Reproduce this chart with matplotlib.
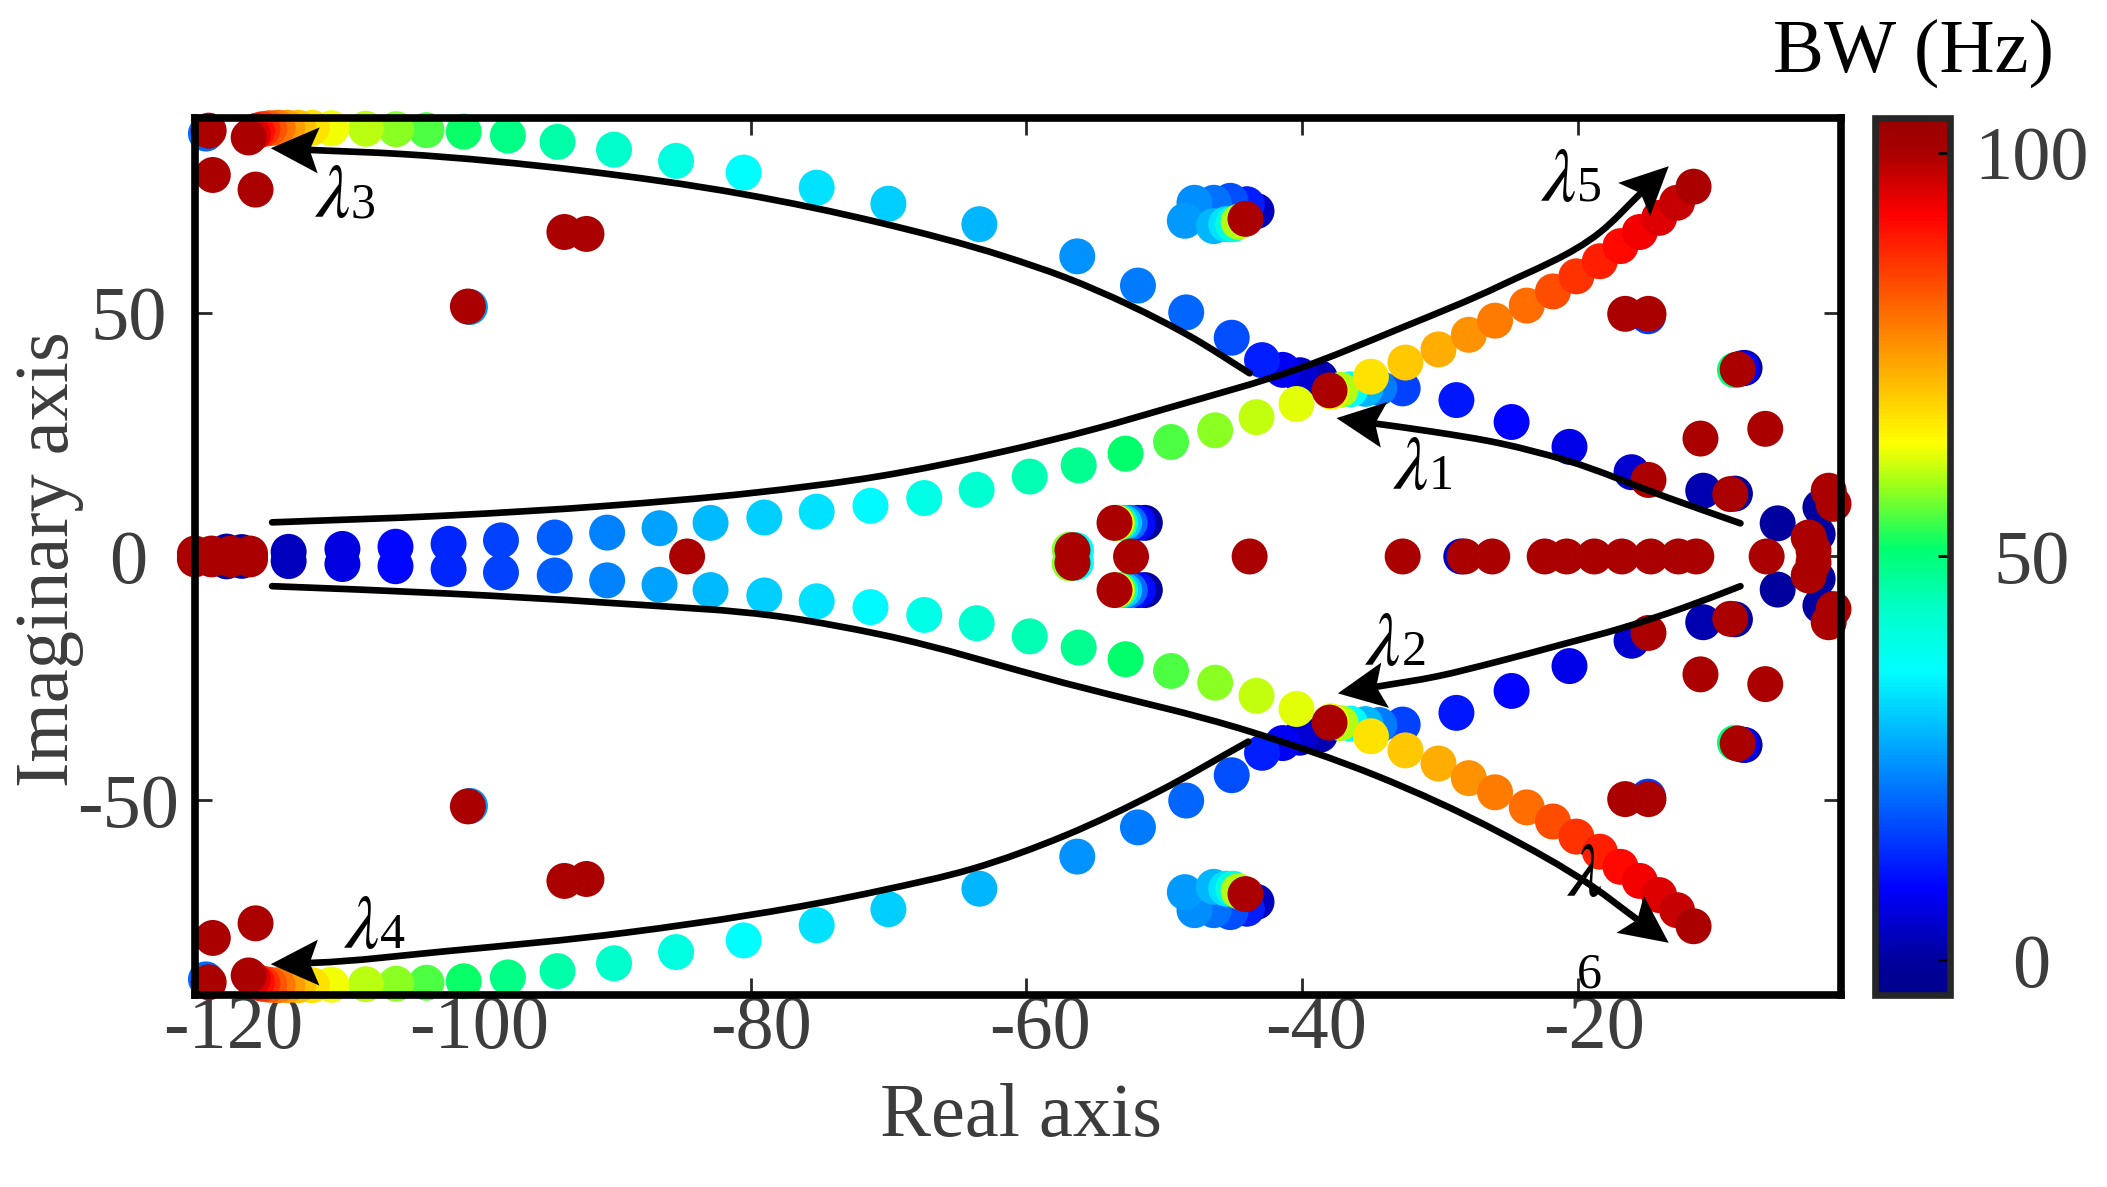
import numpy as np
import matplotlib
matplotlib.use('Agg')
import matplotlib.pyplot as plt
import matplotlib.transforms as mtransforms
from matplotlib.colors import LinearSegmentedColormap, Normalize
from matplotlib.patches import PathPatch, Polygon
from matplotlib.path import Path

plt.rcParams['font.family'] = ['Liberation Serif', 'DejaVu Serif']
plt.rcParams['mathtext.fontset'] = 'stix'
plt.rcParams['axes.unicode_minus'] = False

# ---- poles read off the root locus, upper half plane only
# (the lower half is the complex conjugate and is mirrored below)

# lambda1 branch (short arrow from the right towards the crossing)
lam1_re = [-8.6, -10.9, -16.1, -20.6, -24.8, -28.8, -32.7, -34.4, -35.4, -36.5, -37.2, -38.0]
lam1_im = [12.9, 13.5, 17.3, 22.5, 27.6, 32.1, 34.5, 34.6, 34.4, 34.3, 34.2, 34.1]
lam1_bw = [0, 2, 5, 7, 9, 11, 16, 22, 28, 36, 60, 100]

# lambda3 branch (from the crossing to the top left corner)
lam3_re = [-38.7, -40.15, -41.4, -42.9, -45.1, -48.4, -51.9, -56.3, -63.4, -70.0,
           -75.2, -80.5, -85.4, -89.9, -94.0, -97.6, -100.8, -103.5, -105.7, -107.9,
           -110.4, -111.8, -112.8, -113.6, -114.3, -114.9, -115.4, -115.8, -116.1, -116.4]
lam3_im = [36.6, 37.2, 38.3, 40.3, 44.9, 50.1, 55.6, 61.6, 68.2, 72.4,
           75.7, 78.8, 81.2, 83.5, 85.1, 86.4, 87.2, 87.5, 87.7, 87.8,
           87.9, 88.0, 88.0, 88.0, 88.0, 87.9, 87.7, 87.4, 86.8, 86.0]
lam3_bw = [2, 5, 8, 12, 17, 19.5, 22, 24.5, 28, 30.5,
           33, 36, 40, 43, 46, 49, 51.5, 55, 58, 60.5,
           63.5, 67, 71, 75, 79, 83, 87, 91, 95, 100]

# lambda5 branch (from the real axis on the left to the upper right)
lam5_re = [-118.0, -116.9, -113.5, -109.6, -105.75, -101.9, -98.1, -94.2, -90.4, -86.6,
           -82.9, -79.0, -75.2, -71.3, -67.4, -63.6, -59.75, -56.2, -52.8, -49.5,
           -46.3, -43.3, -40.4, -37.9, -35.0, -32.5, -30.1, -27.9, -26.0, -23.7,
           -21.8, -20.1, -18.4, -16.9, -15.5, -14.1, -12.8, -11.6]
lam5_im = [1.0, 0.9, 0.95, 1.55, 2.0, 2.6, 3.3, 3.9, 4.9, 5.8,
           6.9, 8.0, 9.2, 10.4, 12.0, 13.7, 16.4, 18.7, 21.1, 23.5,
           25.9, 28.6, 31.3, 33.8, 36.9, 39.8, 42.5, 45.5, 48.4, 51.5,
           54.4, 57.5, 60.6, 63.7, 66.6, 69.5, 72.6, 75.9]
lam5_bw = [0, 1.5, 3, 6, 9.5, 13, 16, 19, 22.5, 26,
           28.5, 30.5, 33, 35.5, 39, 42, 45, 48, 51, 55,
           58, 60.7, 62.4, 64.5, 67, 70, 73, 76, 78.5, 80.5,
           83.6, 86.7, 89, 91.5, 93, 95, 97.5, 100]

# small cluster near -44 + 70j
clA_re = [-43.3, -44.0, -45.2, -46.4, -47.8, -48.5, -46.4, -45.5, -45.0, -44.6, -44.1]
clA_im = [70.9, 72.3, 73.0, 72.6, 72.6, 68.9, 67.8, 68.2, 68.2, 68.7, 69.3]
clA_bw = [3, 12, 17, 21, 24, 25, 28, 33, 40, 60, 100]

# small cluster near -53.6 + 6.9j
clB_re = [-51.4, -51.9, -52.5, -52.9, -53.2, -53.35, -53.45, -53.6]
clB_im = [6.9, 6.9, 6.9, 6.9, 6.9, 6.9, 6.9, 6.9]
clB_bw = [0, 10, 20, 30, 40, 55, 65, 100]

# small cluster near -56.7 + 1.3j
clC_re = [-56.4, -56.85, -56.65]
clC_im = [1.3, 1.4, 1.3]
clC_bw = [36, 58, 100]

# nearly fixed poles (mostly seen only at BW = 100 Hz)
fix_re = [-120.3, -119.1, -117.7, -116.3, -84.6, -52.4, -43.8, -32.7, -28.45, -28.2,
          -26.2, -22.4, -20.8, -18.8, -16.8, -14.7, -12.7, -11.4, -6.3,
          -119.5, -119.3, -119.0, -115.9, -93.5, -91.9, -100.35, -100.5,
          -14.9, -16.56, -14.87, -14.87, -11.1, -6.4, -8.94,
          -7.9, -8.1, -8.6, -8.4, -5.5, -2.6, -2.4,
          -1.8, -1.45, -3.25, -2.9]
fix_im = [0.6, 0.6, 0.6, 0.6, 0.0, 0.0, 0.0, 0.0, 0.0, 0.0,
          0.0, 0.0, 0.0, 0.0, 0.0, 0.0, 0.0, 0.0, 0.0,
          86.8, 87.4, 78.3, 75.3, 66.6, 66.2, 51.2, 51.3,
          49.3, 49.8, 49.8, 15.7, 24.2, 26.2, 12.8,
          38.7, 38.6, 38.25, 38.4, 6.8, 4.6, 10.1,
          13.5, 10.8, 3.9, 1.2]
fix_bw = [100, 100, 100, 100, 100, 100, 100, 100, 4, 100,
          100, 100, 100, 100, 100, 100, 100, 100, 100,
          20, 100, 100, 100, 100, 100, 25, 100,
          15, 100, 100, 100, 100, 100, 100,
          0, 8, 50, 100, 0, 0, 0,
          100, 100, 100, 100]

# ---- annotation arrows (way points in data units, last point = tip)
arrow_paths = {
    'l1': [(-8.2, 6.8), (-13.5, 12.1), (-20.8, 19.7), (-25.6, 23.2), (-30.5, 25.6), (-37.5, 28.4)],
    'l2': [(-8.2, -6.1), (-12.3, -10.5), (-16.8, -14.7), (-21.2, -18.1), (-25.7, -21.5),
           (-30.2, -24.6), (-37.4, -28.1)],
    'l3': [(-43.8, 37.6), (-48.0, 45.0), (-52.6, 51.7), (-57.1, 57.2), (-61.6, 61.6),
           (-70.6, 68.5), (-80.6, 74.4), (-92.3, 79.2), (-105.3, 82.6), (-114.8, 83.8)],
    'l4': [(-43.9, -38.0), (-50.45, -48.3), (-57.2, -57.3), (-63.9, -64.1), (-70.6, -68.6),
           (-89.0, -77.2), (-102.0, -81.0), (-111.7, -83.4), (-114.8, -83.7)],
    'l5': [(-114.7, 7.0), (-102.0, 8.4), (-90.4, 10.4), (-80.0, 13.0), (-70.6, 16.5),
           (-61.9, 21.4), (-55.0, 26.2), (-49.8, 30.4), (-40.2, 38.6), (-32.9, 46.8),
           (-25.6, 55.6), (-18.4, 66.5), (-13.4, 80.1)],
    'l6': [(-114.7, -6.1), (-102.0, -7.6), (-90.4, -9.5), (-77.2, -12.6), (-70.6, -16.0),
           (-57.2, -26.0), (-43.7, -36.0), (-34.7, -44.9), (-25.7, -56.6),
           (-19.0, -67.6), (-13.4, -79.3)],
}

# lambda labels: (index, x, y of the lambda baseline)
lam_labels = [('1', -33.4, 13.9), ('2', -35.4, -22.2), ('3', -111.6, 69.6),
              ('4', -109.5, -80.3), ('5', -22.7, 73.0)]
lam6_pos = (-20.8, -69.6)
lam6_digit_pos = (-20.1, -88.5)

xticks = [-120, -100, -80, -60, -40, -20]
xtick_labels = ['-120', '-100', '-80', '-60', '-40', '-20']
yticks = [-50, 0, 50]
ytick_labels = ['-50', '0', '50']
cbar_ticks = [0, 50, 100]
cbar_labels = ['0', '50', '100']

# ---- colour map (jet-like, as in the colour bar)
cmap = LinearSegmentedColormap.from_list('bw', [
    (0.00, (0.00, 0.00, 0.55)),
    (0.04, (0.00, 0.00, 0.62)),
    (0.12, (0.00, 0.00, 1.00)),
    (0.37, (0.00, 1.00, 1.00)),
    (0.44, (0.00, 1.00, 0.78)),
    (0.51, (0.00, 1.00, 0.42)),
    (0.58, (0.60, 1.00, 0.10)),
    (0.63, (1.00, 1.00, 0.00)),
    (0.89, (1.00, 0.00, 0.00)),
    (0.96, (0.67, 0.00, 0.00)),
    (1.00, (0.60, 0.00, 0.00)),
])
norm = Normalize(vmin=-4.3, vmax=104.3)

groups = [(lam1_re, lam1_im, lam1_bw), (lam3_re, lam3_im, lam3_bw),
          (lam5_re, lam5_im, lam5_bw), (clA_re, clA_im, clA_bw),
          (clB_re, clB_im, clB_bw), (clC_re, clC_im, clC_bw),
          (fix_re, fix_im, fix_bw)]
re = np.concatenate([np.asarray(g[0], float) for g in groups])
im = np.concatenate([np.asarray(g[1], float) for g in groups])
bw = np.concatenate([np.asarray(g[2], float) for g in groups])
up = im > 0
re_all = np.concatenate([re, re[up]])
im_all = np.concatenate([im, -im[up]])
bw_all = np.concatenate([bw, bw[up]])
order = np.argsort(bw_all, kind='stable')   # higher BW drawn on top

fig = plt.figure(figsize=(21.07, 11.87), dpi=100)
ax = fig.add_axes([0.0925, 0.1618, 0.7813, 0.7388])

sc = ax.scatter(re_all[order], im_all[order], c=bw_all[order], cmap=cmap, norm=norm,
                s=670, linewidths=0, clip_on=False, zorder=3)

ax.set_xlim(-120.3, -0.9)
ax.set_ylim(-90, 90)

ax.set_xticks(xticks)
ax.set_xticklabels(xtick_labels)
ax.set_yticks(yticks)
ax.set_yticklabels(ytick_labels, ha='center')
ax.tick_params(direction='in', length=12.5, width=2, color='#262626',
               labelcolor='#3c3c3c', labelsize=55, top=True, right=True)
ax.tick_params(axis='x', pad=0)
ax.tick_params(axis='y', pad=48)
xshift_px = [34, 4, 10, 14, 14, 16]
for lbl, dx in zip(ax.get_xticklabels(), xshift_px):
    lbl.set_transform(lbl.get_transform() + mtransforms.Affine2D().translate(dx, 0))

for sp in ax.spines.values():
    sp.set_linewidth(5.5)
    sp.set_color('k')
    sp.set_zorder(4)

ax.set_xlabel('Real axis', fontsize=55, color='#3c3c3c')
ax.xaxis.set_label_coords(0.4846, 0.088, transform=fig.transFigure)
ax.set_ylabel('Imaginary axis', fontsize=55, color='#3c3c3c')
ax.yaxis.set_label_coords(0.0401, 0.5286, transform=fig.transFigure)


def draw_arrow(pts, head_len=48, head_half=23, notch=9):
    # smooth curve through the way points, notched arrow head at the last one
    pts = np.asarray(pts, float)
    tr = ax.transData
    inv = tr.inverted()
    P = tr.transform(pts)
    tip = P[-1]
    d = P[-1] - P[-2]
    d = d / np.hypot(d[0], d[1])
    nrm = np.array([-d[1], d[0]])
    back = tip - (head_len - notch) * d
    head = np.array([tip, tip - head_len * d + head_half * nrm, back,
                     tip - head_len * d - head_half * nrm])
    P[-1] = back + 2 * d
    n = len(P)
    h = np.hypot(*np.diff(P, axis=0).T)
    m = np.zeros_like(P)
    m[0] = (P[1] - P[0]) / h[0]
    m[-1] = (P[-1] - P[-2]) / h[-1]
    for i in range(1, n - 1):
        m[i] = ((P[i + 1] - P[i]) / h[i] * h[i - 1]
                + (P[i] - P[i - 1]) / h[i - 1] * h[i]) / (h[i - 1] + h[i])
    verts = [P[0]]
    codes = [Path.MOVETO]
    for i in range(n - 1):
        verts += [P[i] + m[i] * h[i] / 3.0, P[i + 1] - m[i + 1] * h[i] / 3.0, P[i + 1]]
        codes += [Path.CURVE4] * 3
    verts = inv.transform(np.array(verts))
    ax.add_patch(PathPatch(Path(verts, codes), fill=False, lw=4.8, edgecolor='k',
                           capstyle='round', zorder=5, clip_on=False))
    ax.add_patch(Polygon(inv.transform(head), closed=True, facecolor='k',
                         edgecolor='none', zorder=5, clip_on=False))


for key in arrow_paths:
    draw_arrow(arrow_paths[key])

for num, x, y in lam_labels:
    ax.text(x, y, r'$\lambda$', fontsize=55, ha='left', va='baseline', zorder=6)
    ax.annotate(num, xy=(x, y), xytext=(26, 0), textcoords='offset points',
                fontsize=36, ha='left', va='baseline', zorder=6)
ax.text(lam6_pos[0], lam6_pos[1], r'$\lambda$', fontsize=55, ha='left', va='baseline', zorder=6)
ax.text(lam6_digit_pos[0], lam6_digit_pos[1], '6', fontsize=36, ha='left', va='baseline', zorder=6)

# colour bar
cax = fig.add_axes([0.8901, 0.1618, 0.0352, 0.7388])
cb = fig.colorbar(sc, cax=cax)
cb.set_ticks(cbar_ticks, labels=cbar_labels, ha='center')
cb.outline.set_linewidth(4.8)
cb.outline.set_edgecolor('#262626')
cax.tick_params(direction='in', length=8.6, width=2, color='k',
                labelcolor='#3c3c3c', labelsize=55, pad=59)
fig.text(0.908, 0.9393, 'BW (Hz)', ha='center', va='baseline', fontsize=55, color='k')

fig.savefig('out.png', dpi=100)
